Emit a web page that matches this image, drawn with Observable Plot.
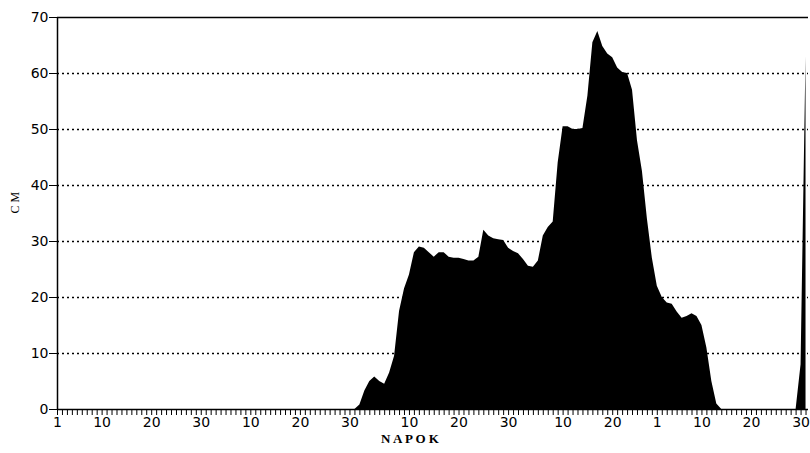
<!DOCTYPE html>
<html><head><meta charset="utf-8">
<script src="https://cdn.jsdelivr.net/npm/d3@7"></script>
<script src="https://cdn.jsdelivr.net/npm/@observablehq/plot@0.6"></script>
<style>body{margin:0;background:#fff}</style>
</head><body><div id="chart"></div>
<script>
// Daily snow depth (cm), Nov 1 .. Mar 31 (index 0 .. 151)
const depth = [
  0,0,0,0,0,0,0,0,0,0, 0,0,0,0,0,0,0,0,0,0,
  0,0,0,0,0,0,0,0,0,0, 0,0,0,0,0,0,0,0,0,0,
  0,0,0,0,0,0,0,0,0,0, 0,0,0,0,0,0,0,0,0,0,
  0, 0.8, 3.3, 5, 5.8, 5, 4.5, 6.5, 9.5, 17.5,
  21.5, 24, 28, 29, 28.8, 28, 27.2, 28, 28, 27.2,
  27, 27, 26.8, 26.5, 26.5, 27.2, 32, 31, 30.5, 30.3,
  30.2, 28.8, 28.2, 27.8, 26.8, 25.6, 25.4, 26.5, 31, 32.5,
  33.5, 44, 50.5, 50.5, 50, 50, 50.2, 56, 65.5, 67.5,
  64.8, 63.5, 62.8, 61, 60.2, 60, 57, 48, 42.5, 34,
  27, 22, 20, 19, 18.8, 17.4, 16.3, 16.6, 17.1, 16.6,
  15, 11, 5, 1, 0, 0, 0, 0, 0, 0,
  0,0,0,0,0,0,0,0,0,0, 8, 63
];
const days = d3.range(depth.length);
const tickDays   = [0, 9, 19, 29, 39, 49, 59, 71, 81, 91, 102, 112, 121, 130, 140, 150];
const tickLabels = ["1","10","20","30","10","20","30","10","20","30","10","20","1","10","20","30"];
const yTicks = [0, 10, 20, 30, 40, 50, 60, 70];
const gridY = [10, 20, 30, 40, 50, 60];
const yLabel = "C M";
const xLabel = "N A P O K";

const labelOf = new Map(tickDays.map((d, i) => [d, tickLabels[i]]));

const chart = Plot.plot({
  width: 810,
  height: 453,
  marginLeft: 57,
  marginRight: 2,
  marginTop: 17,
  marginBottom: 44,
  style: {fontFamily: "DejaVu Sans", fontSize: "14px", color: "black", background: "white"},
  x: {domain: [0, 151.5], axis: null},
  y: {domain: [0, 70], axis: null},
  marks: [
    Plot.ruleY(gridY, {stroke: "black", strokeWidth: 1.3, strokeDasharray: "2,3"}),
    Plot.areaY(days, {x: d => d, y: d => depth[d], fill: "black", curve: "linear"}),
    Plot.ruleY([0], {stroke: "black", strokeWidth: 1.5}),
    Plot.ruleY([70], {stroke: "black", strokeWidth: 1.5}),
    Plot.ruleX([0], {stroke: "black", strokeWidth: 1.5}),
    Plot.axisY({ticks: yTicks, tickSize: 8, tickPadding: 1, label: null, fontSize: 14}),
    Plot.axisX({ticks: days, tickSize: 6, tickPadding: 2, tickFormat: d => labelOf.get(d) ?? "", label: null, fontSize: 14}),
    Plot.text([yLabel], {frameAnchor: "left", dx: -42, rotate: -90, fontFamily: "Liberation Serif", fontSize: 12}),
    Plot.text([xLabel], {frameAnchor: "bottom", dx: -23, dy: 33, fontFamily: "Liberation Serif", fontSize: 13, fontWeight: "bold"})
  ]
});
document.getElementById("chart").append(chart);
</script>
</body></html>
